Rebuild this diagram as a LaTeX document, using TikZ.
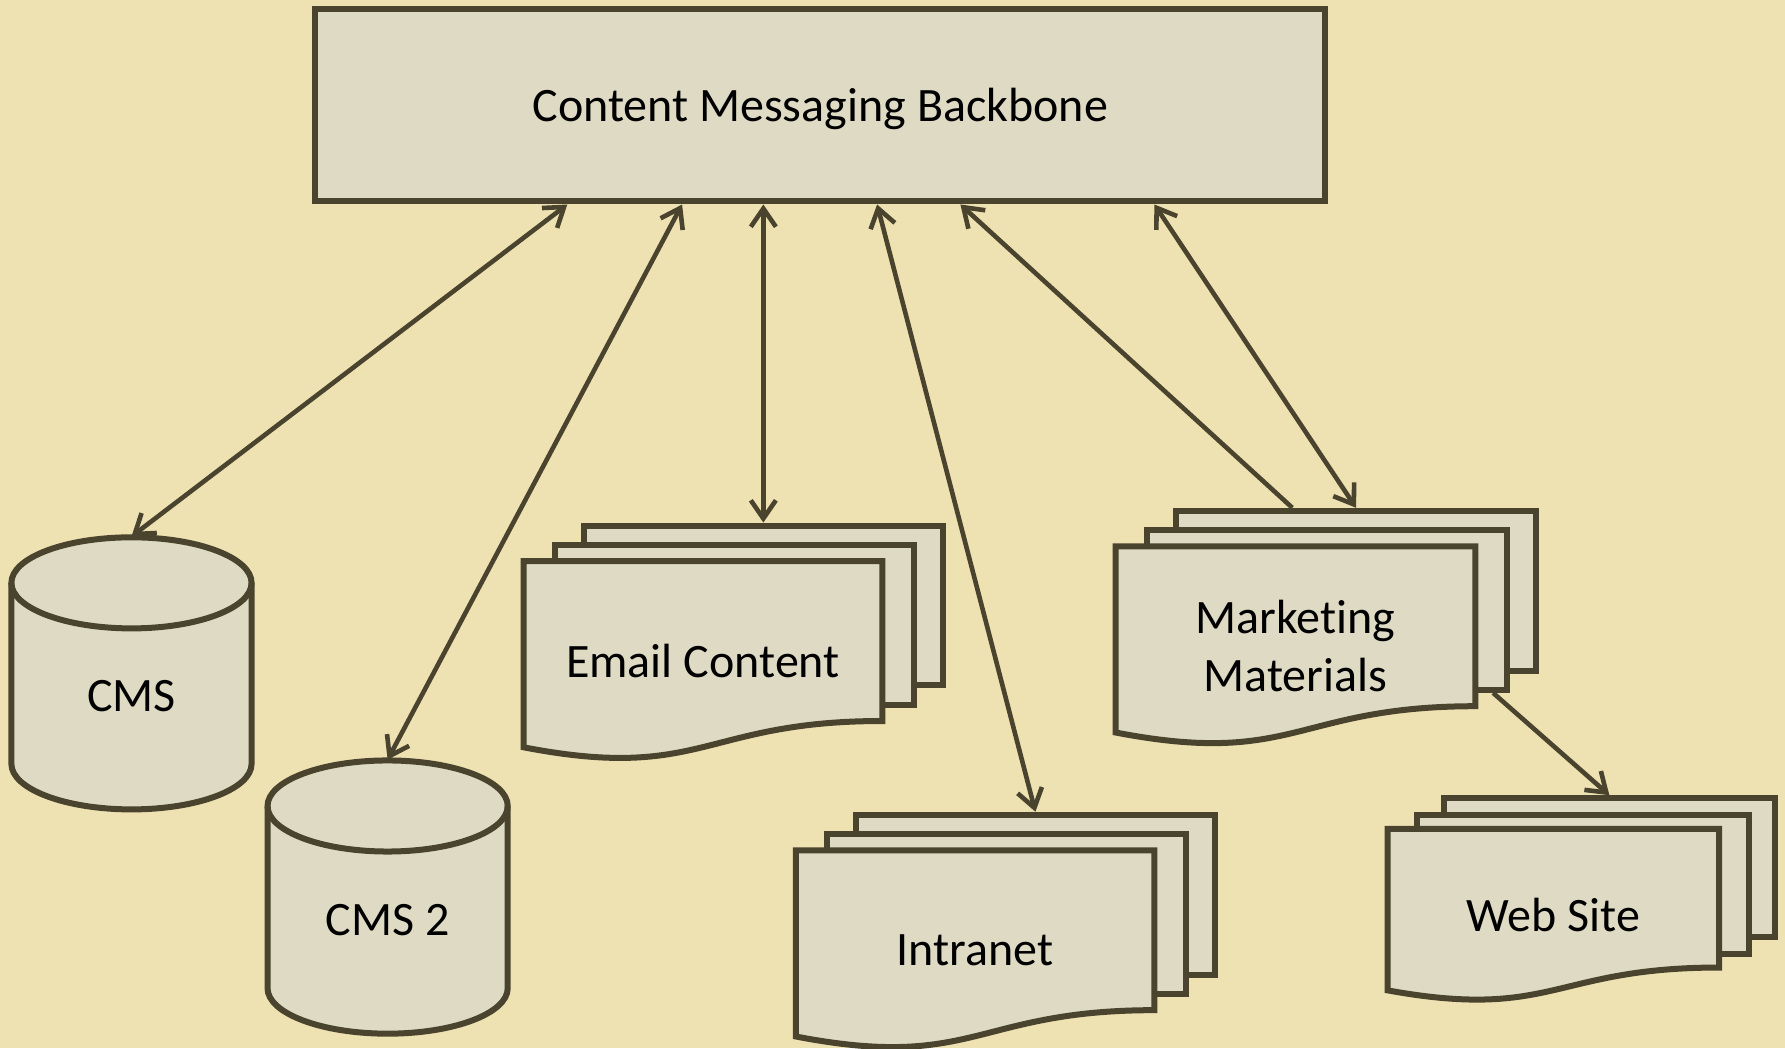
\documentclass[tikz,border=0pt]{standalone}
\usepackage{fontspec}
\setmainfont{Carlito}[Ligatures=NoCommon]
\usetikzlibrary{calc,arrows.meta}

\definecolor{parchment}{RGB}{238,225,178}
\definecolor{sheetfill}{RGB}{222,218,195}
\definecolor{ink}{RGB}{74,68,46}

% stack of three pages, the front one with a wavy bottom
\newcommand{\docstack}[5]{%
  \node[sheet, minimum width=#3cm, minimum height=0.802*#4cm, anchor=north west]
    (#1back) at ($(#2)+(-0.34*#3,0.694*#4)$) {};
  \node[sheet, minimum width=#3cm, minimum height=0.802*#4cm, anchor=north west]
    (#1mid) at ($(#2)+(-0.42*#3,0.597*#4)$) {};
  \draw[sheet] ($(#2)+(-0.5*#3,0.5*#4)$) -- ($(#2)+(0.5*#3,0.5*#4)$)
    -- ($(#2)+(0.5*#3,-0.302*#4)$)
    .. controls ($(#2)+(0,-0.302*#4)$) and ($(#2)+(0,-0.6075*#4)$) .. ($(#2)+(-0.5*#3,-0.434*#4)$)
    -- cycle;
  \node[doctext, minimum width=#3cm, minimum height=#4cm] (#1) at (#2) {#5};
}

% database drum
\newcommand{\drum}[5]{%
  \draw[sheet] ($(#2)+(-0.5*#3,0.5*#4-0.4)$) -- ($(#2)+(-0.5*#3,-0.5*#4+0.4)$)
    arc[start angle=180, end angle=360, x radius=0.5*#3, y radius=0.4]
    -- ($(#2)+(0.5*#3,0.5*#4-0.4)$)
    arc[start angle=0, end angle=180, x radius=0.5*#3, y radius=0.4] -- cycle;
  \draw[sheet, fill=none] ($(#2)+(-0.5*#3,0.5*#4-0.4)$)
    arc[start angle=180, end angle=360, x radius=0.5*#3, y radius=0.4];
  \node[doctext, minimum width=#3cm, minimum height=#4cm] (#1) at (#2)
    {\raisebox{-2mm}[\height][\depth]{#5}};
}

\begin{document}
\begin{tikzpicture}[
  >={Straight Barb[length=1.6mm,width=2.2mm]},
  sheet/.style={draw=ink, fill=sheetfill, line width=1.5pt, inner sep=0pt},
  doctext/.style={inner sep=0pt, align=center, font=\fontsize{12}{14.4}\selectfont},
  hub/.style={sheet, minimum width=8.87cm, minimum height=1.69cm, text depth=0pt,
    font=\fontsize{12}{14.4}\selectfont},
  link/.style={draw=ink, line width=1.15pt}
]
\fill[parchment] (0,0) rectangle (15.68,-9.21);
\useasboundingbox (0,0) rectangle (15.68,-9.21);

\node[hub] (cmb) at (7.205,-0.925) {Content Messaging Backbone};

\drum{cms}{1.155,-5.915}{2.11}{2.39}{CMS}
\drum{cms2}{3.405,-7.88}{2.11}{2.40}{CMS 2}
\docstack{email}{6.175,-5.805}{3.15}{1.75}{Email Content}
\docstack{mkt}{11.38,-5.675}{3.16}{1.75}{Marketing\\Materials}
\docstack{intranet}{8.565,-8.345}{3.15}{1.75}{Intranet}
\docstack{web}{13.645,-8.04}{2.91}{1.52}{Web Site}

% links to the backbone
\draw[link,<->] ($(cmb.south west)!0.251!(cmb.south east)$) -- (cms.north);
\draw[link,<->] ($(cmb.south west)!0.364!(cmb.south east)$) -- (cms2.north);
\draw[link,<->] (cmb.south -| emailback.north) -- (emailback.north);
\draw[link,<->] ($(cmb.south west)!0.556!(cmb.south east)$) -- (intranetback.north);
\draw[link,->] ([xshift=-5.6mm]mktback.north) -- ($(cmb.south west)!0.638!(cmb.south east)$);
\draw[link,<->] ($(cmb.south west)!0.829!(cmb.south east)$) -- (mktback.north);

% marketing feeds the web site
\draw[link,->] ([xshift=-1.5mm]mktmid.south east) -- (webback.north);
\end{tikzpicture}
\end{document}
